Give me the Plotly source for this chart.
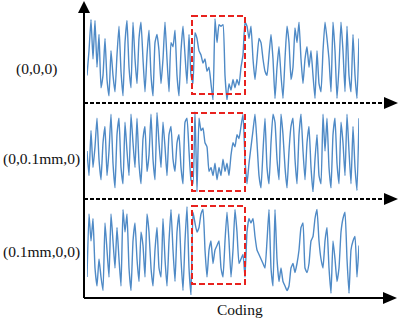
import plotly.graph_objects as go

# ---- data (signal amplitudes, normalised 0..1, one sample per coding step) ----
labels = ["(0,0,0)", "(0,0.1mm,0)", "(0.1mm,0,0)"]
x_title = "Coding"

sig1_left = [0.3, 0.6, 0.98, 0.5, 0.97, 0.4, 0.8, 0.15, 0.3, 0.75, 0.25, 0.05, 0.6, 0.3, 0.1, 0.55, 0.9, 0.35,
             0.05, 0.7, 0.97, 0.4, 0.15, 0.95, 0.5, 0.2, 0.75, 0.95, 0.5, 0.1, 0.55, 0.85, 0.3, 0.05, 0.7, 0.8,
             0.6, 0.2, 0.5, 0.95, 0.5, 0.1, 0.7, 0.65, 0.85, 0.3, 0.05, 0.6, 0.9, 0.55, 0.2, 0.8, 0.3]
sig1_box = [0.2, 0.82, 0.75, 0.6, 0.55, 0.45, 0.5, 0.35, 0.4, 0.2, 0.0, 0.99, 0.7, 0.92, 0.9, 0.92, 0.3, 0.0,
            0.2, 0.12, 0.25, 0.15, 0.25, 0.18, 0.4, 0.55, 0.95]
sig1_right = [0.9, 0.75, 0.9, 0.5, 0.25, 0.5, 0.75, 0.7, 0.5, 0.35, 0.3, 0.55, 0.8, 0.5, 0.02, 0.4, 0.65, 0.3,
              0.02, 0.5, 0.9, 0.7, 0.25, 0.4, 0.88, 0.7, 0.95, 0.5, 0.2, 0.5, 0.65, 0.4, 0.6, 0.3, 0.02, 0.6,
              0.2, 0.1, 0.6, 0.95, 0.75, 0.5, 0.1, 0.95, 0.6, 0.02, 0.4, 0.95, 0.6, 0.1, 0.9, 0.3, 0.1, 0.8,
              0.3, 0.02, 0.75]

sig2_left = [0.5, 0.2, 0.75, 0.3, 0.55, 0.9, 0.4, 0.15, 0.6, 0.8, 0.2, 0.5, 0.95, 0.35, 0.05, 0.7, 0.9, 0.3,
             0.1, 0.85, 0.5, 0.2, 0.95, 0.6, 0.3, 0.9, 0.35, 0.1, 0.65, 0.8, 0.25, 0.45, 0.95, 0.4, 0.15, 0.97,
             0.6, 0.3, 0.85, 0.55, 0.2, 0.7, 0.8, 0.4, 0.25, 0.6, 0.7, 0.3, 0.1, 0.85, 0.9, 0.5, 0.15]
sig2_box = [0.1, 0.98, 0.0, 0.9, 0.75, 0.78, 0.6, 0.55, 0.25, 0.3, 0.2, 0.35, 0.15, 0.3, 0.2, 0.4, 0.25, 0.35,
            0.2, 0.45, 0.6, 0.55, 0.7, 0.65, 0.8, 0.95, 0.4]
sig2_right = [0.1, 0.35, 0.55, 0.75, 0.95, 0.6, 0.2, 0.05, 0.5, 0.9, 0.3, 0.1, 0.6, 0.95, 0.85, 0.4, 0.15, 0.95,
              0.7, 0.3, 0.05, 0.5, 0.8, 0.9, 0.4, 0.1, 0.7, 0.95, 0.5, 0.15, 0.6, 0.8, 0.3, 0.0, 0.4, 0.7, 0.2,
              0.1, 0.95, 0.5, 0.9, 0.3, 0.05, 0.7, 0.9, 0.35, 0.1, 0.85, 0.6, 0.2, 0.95, 0.5, 0.1, 0.8, 0.3,
              0.02, 0.9]

sig3_left = [0.2, 0.9, 0.6, 0.85, 0.3, 0.1, 0.4, 0.2, 0.05, 0.8, 0.5, 0.2, 0.9, 0.6, 0.3, 0.75, 0.4, 0.1, 0.95,
             0.7, 0.9, 0.3, 0.05, 0.6, 0.8, 0.4, 0.15, 0.7, 0.55, 0.2, 0.9, 0.7, 0.3, 0.1, 0.5, 0.75, 0.3, 0.2,
             0.85, 0.4, 0.1, 0.6, 0.95, 0.5, 0.15, 0.7, 0.9, 0.4, 0.05, 0.6, 0.98, 0.3, 0.0]
sig3_box = [0.92, 0.8, 0.7, 0.75, 0.9, 0.95, 0.5, 0.2, 0.5, 0.6, 0.35, 0.5, 0.55, 0.6, 0.3, 0.2, 0.6, 0.92,
            0.6, 0.2, 0.5, 0.95, 0.7, 0.35, 0.4, 0.45, 0.2]
sig3_right = [0.7, 0.85, 0.8, 0.85, 0.65, 0.5, 0.45, 0.4, 0.35, 0.3, 0.6, 0.95, 0.3, 0.1, 0.95, 0.4, 0.15, 0.3,
              0.15, 0.1, 0.05, 0.1, 0.3, 0.35, 0.25, 0.35, 0.5, 0.75, 0.8, 0.3, 0.25, 0.35, 0.6, 0.65, 0.85,
              0.95, 0.6, 0.4, 0.3, 0.6, 0.75, 0.3, 0.02, 0.6, 0.4, 0.15, 0.3, 0.7, 0.85, 0.92, 0.4, 0.02, 0.5,
              0.6, 0.65, 0.2, 0.55]

signals = [sig1_left + sig1_box + sig1_right,
           sig2_left + sig2_box + sig2_right,
           sig3_left + sig3_box + sig3_right]

W, H = 400, 319
LINE = "#4f8ac6"

fig = go.Figure()
yaxes = ["y", "y2", "y3"]
for s, ya in zip(signals, yaxes):
    fig.add_trace(go.Scatter(x=list(range(len(s))), y=s, mode="lines", xaxis="x", yaxis=ya,
                             line=dict(color=LINE, width=1.4, shape="spline", smoothing=0.4),
                             hoverinfo="skip", showlegend=False))
# invisible trace for the overlay (pixel-like) axes
fig.add_trace(go.Scatter(x=[0], y=[0], mode="markers", marker=dict(opacity=0), xaxis="x2", yaxis="y4",
                         showlegend=False, hoverinfo="skip"))

def py(p):
    return 1 - p / H

n = len(signals[0])
ax_common = dict(visible=False, fixedrange=True)
fig.update_layout(
    width=W, height=H, margin=dict(l=0, r=0, t=0, b=0),
    paper_bgcolor="white", plot_bgcolor="rgba(0,0,0,0)",
    xaxis=dict(domain=[87 / W, 359 / W], range=[0, n - 1], anchor="y", **ax_common),
    yaxis=dict(domain=[py(100), py(18)], range=[0, 1], anchor="x", **ax_common),
    yaxis2=dict(domain=[py(192), py(110)], range=[0, 1], anchor="x", **ax_common),
    yaxis3=dict(domain=[py(295), py(205)], range=[0, 1], anchor="x", **ax_common),
    xaxis2=dict(domain=[0, 1], range=[0, W], anchor="y4", **ax_common),
    yaxis4=dict(domain=[0, 1], range=[H, 0], anchor="x2", **ax_common),
)

shapes = []
# axes lines
shapes.append(dict(type="line", xref="x2", yref="y4", x0=84, y0=298, x1=84, y1=10,
                   line=dict(color="black", width=2)))
shapes.append(dict(type="line", xref="x2", yref="y4", x0=84, y0=298, x1=385, y1=298,
                   line=dict(color="black", width=2)))
shapes.append(dict(type="path", xref="x2", yref="y4", path="M 78 13 L 84 1 L 90 13 Z",
                   fillcolor="black", line=dict(color="black", width=0)))
shapes.append(dict(type="path", xref="x2", yref="y4", path="M 383 292 L 397 298 L 383 304 Z",
                   fillcolor="black", line=dict(color="black", width=0)))
# dashed separators
for yy in (103, 199):
    shapes.append(dict(type="line", xref="x2", yref="y4", x0=84, y0=yy, x1=386, y1=yy,
                       line=dict(color="black", width=2, dash="4px,2px")))
    shapes.append(dict(type="path", xref="x2", yref="y4",
                       path=f"M 384 {yy-6} L 398 {yy} L 384 {yy+6} Z",
                       fillcolor="black", line=dict(color="black", width=0)))
# red dashed boxes
for (t, b) in ((16, 94), (113, 191), (206, 284)):
    shapes.append(dict(type="rect", xref="x2", yref="y4", x0=192, x1=245, y0=t, y1=b,
                       line=dict(color="#e8221e", width=2, dash="6px,3px"), fillcolor="rgba(0,0,0,0)"))
fig.update_layout(shapes=shapes)

FONT = dict(family="Liberation Serif, Times New Roman, serif", size=15.5, color="#111111")
for lab, xc, yc in zip(labels, (36, 41, 41), (69, 159, 252)):
    fig.add_annotation(text=lab, xref="x2", yref="y4", x=xc, y=yc, showarrow=False, font=FONT,
                       xanchor="center", yanchor="middle")
fig.add_annotation(text=x_title, xref="x2", yref="y4", x=240, y=309, showarrow=False,
                   font=dict(FONT, size=15.5), xanchor="center", yanchor="middle")

fig.write_html("out.html", config={"displayModeBar": False},
               post_script="document.body.style.margin='0';document.body.style.overflow='hidden';")
